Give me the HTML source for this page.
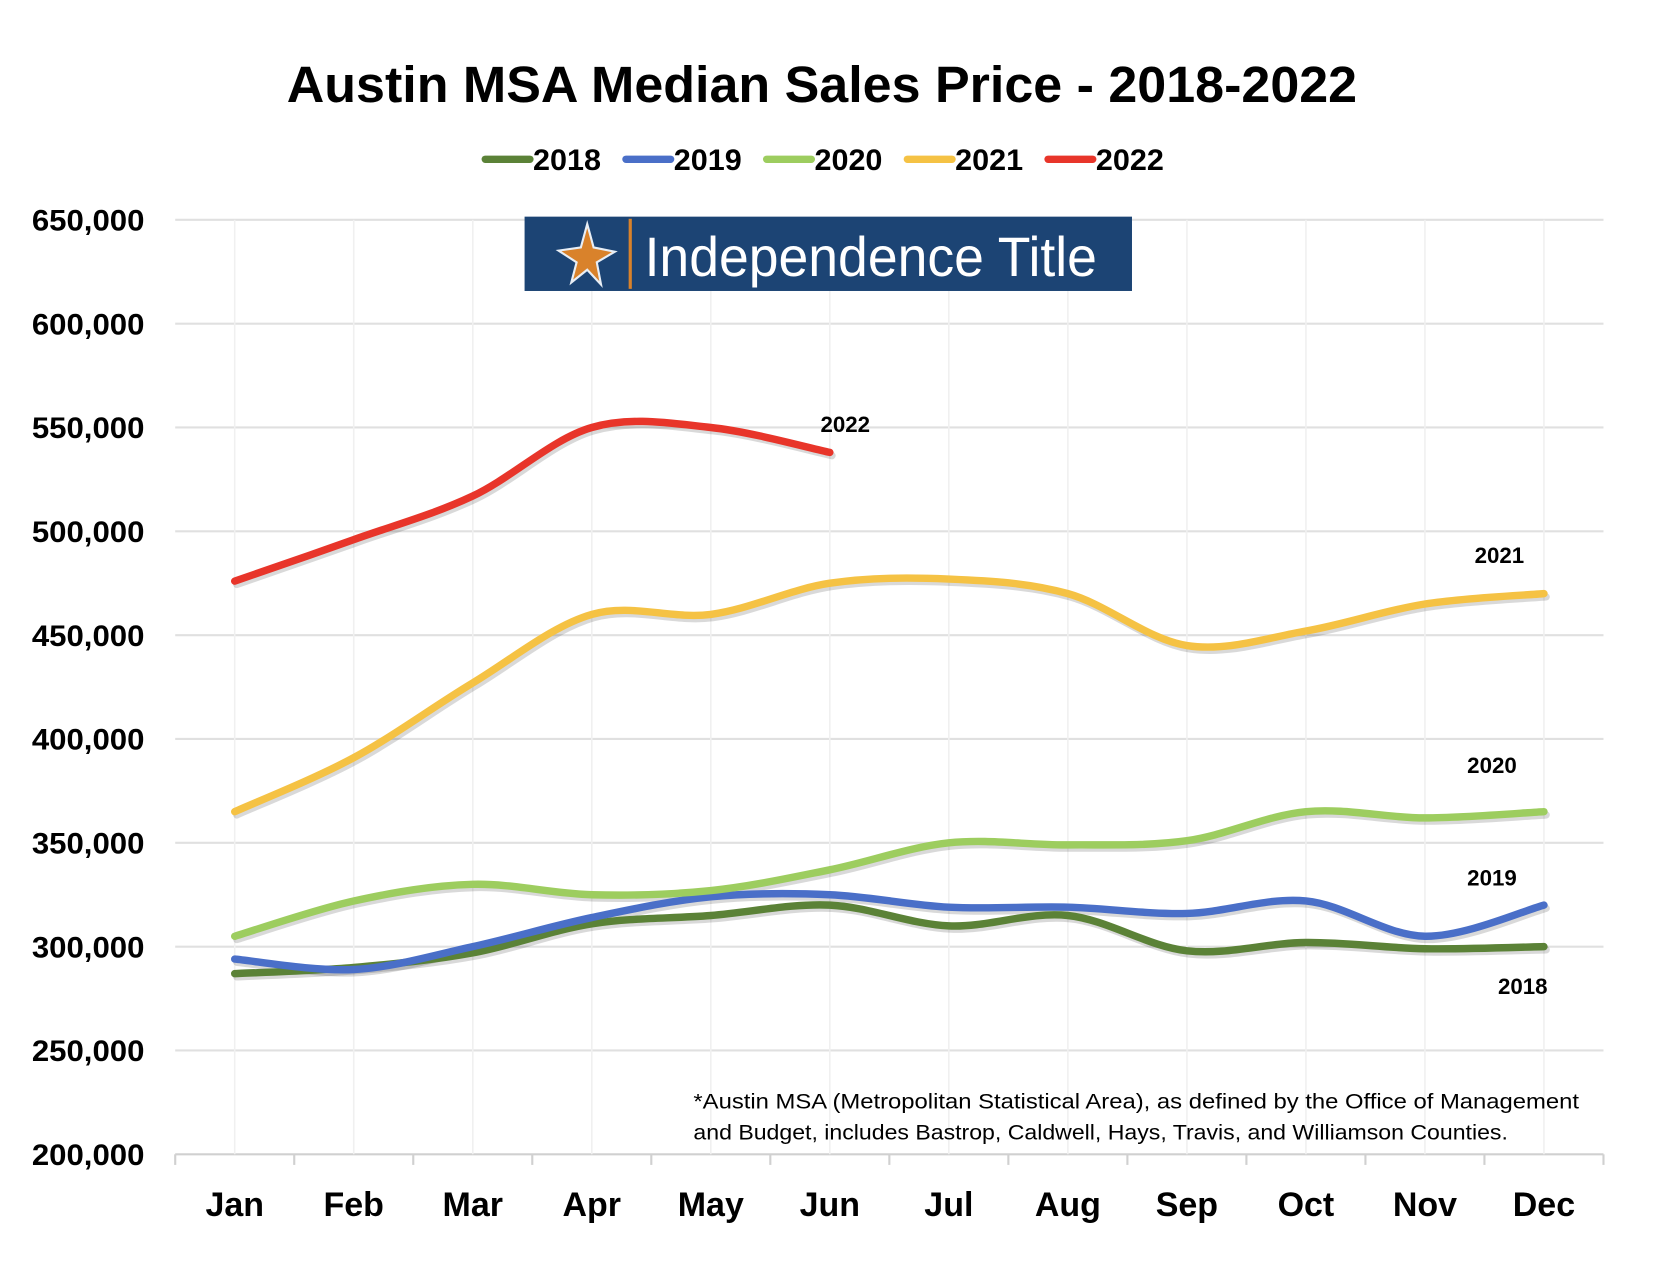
<!DOCTYPE html>
<html><head><meta charset="utf-8"><style>
html,body{margin:0;padding:0;background:#fff}
svg{display:block}
text{font-family:"Liberation Sans",sans-serif}
</style></head><body>
<svg id="chart" width="1664" height="1286" viewBox="0 0 1567 1211" xmlns="http://www.w3.org/2000/svg">
<rect width="1567" height="1211" fill="#fff"/>
<text x="774" y="96" text-anchor="middle" font-size="48" font-weight="bold" textLength="1008" lengthAdjust="spacingAndGlyphs">Austin MSA Median Sales Price - 2018-2022</text>
<g id="grid"></g>
<g id="yaxis"></g>
<g id="xaxis"></g>
<g>
<rect x="494" y="204" width="572" height="70" fill="#1c4474"/>
<polygon points="553,211 559,233 579,237 562,247 566,268 553,254 538,266 543,247 526,236 547,233" fill="#d9822b" stroke="#e8eef5" stroke-width="2"/>
<rect x="592" y="206" width="3" height="66" fill="#d9822b"/>
<text x="607" y="260" font-size="52" fill="#fff" textLength="426" lengthAdjust="spacingAndGlyphs">Independence Title</text>
</g>
<g id="series"></g>
<g id="legend"></g>
<text x="653" y="1044" font-size="20" textLength="834" lengthAdjust="spacingAndGlyphs">*Austin MSA (Metropolitan Statistical Area), as defined by the Office of Management</text>
<text x="653" y="1073" font-size="20" textLength="767" lengthAdjust="spacingAndGlyphs">and Budget, includes Bastrop, Caldwell, Hays, Travis, and Williamson Counties.</text>
</svg>
<script>
const months = ["Jan","Feb","Mar","Apr","May","Jun","Jul","Aug","Sep","Oct","Nov","Dec"];
const yTicks = [200000,250000,300000,350000,400000,450000,500000,550000,600000,650000];
const years = ["2018","2019","2020","2021","2022"];
const s2018 = [287000,290000,297000,311000,315000,320000,310000,315000,298000,302000,299000,300000];
const s2019 = [294000,289000,300000,314000,324000,325000,319000,319000,316000,322000,305000,320000];
const s2020 = [305000,322000,330000,325000,327000,337000,350000,349000,351000,365000,362000,365000];
const s2021 = [365000,391000,427000,460000,460000,475000,477000,470000,445000,452000,465000,470000];
const s2022 = [476000,496000,517000,550000,550000,538000];

const NS="http://www.w3.org/2000/svg";
const L=165,R=1510,T=207,B=1087,YMIN=200000,YMAX=650000;
const step=(R-L)/months.length;
function xs(i){return L+step*(i+0.5);}
function ys(v){return B-(v-YMIN)/(YMAX-YMIN)*(B-T);}
function mk(tag,attrs,parent){const e=document.createElementNS(NS,tag);for(const k in attrs)e.setAttribute(k,attrs[k]);parent.appendChild(e);return e;}
const grid=document.getElementById('grid'),yax=document.getElementById('yaxis'),xax=document.getElementById('xaxis');
yTicks.forEach(v=>{
  const y=ys(v);
  const gl=mk('line',{x1:L,x2:R,y1:y,y2:y,stroke:v===YMIN?'#d0d0d0':'#e0e0e0','stroke-width':2},grid);
  
  
  const t=mk('text',{x:136,y:y+10,'text-anchor':'end','font-size':28,'font-weight':'bold',textLength:106,lengthAdjust:'spacingAndGlyphs'},yax);
  
  
  t.textContent=v.toLocaleString('en-US');
});
months.forEach((m,i)=>{
  const vl=mk('line',{x1:xs(i),x2:xs(i),y1:T,y2:B,stroke:'#f0f0f0','stroke-width':1.5},grid);
  
  
  const t=mk('text',{x:xs(i),y:1145,'text-anchor':'middle','font-size':32,'font-weight':'bold'},xax);
  
  
  t.textContent=m;
});
for(let i=0;i<=months.length;i++){
  const x=L+step*i;
  const tk=mk('line',{x1:x,x2:x,y1:B,y2:B+10,stroke:'#d0d0d0','stroke-width':2},xax);
  
  
}
function smooth(vals){
  const p=vals.map((v,i)=>[xs(i),ys(v)]);
  let d=`M${p[0][0]},${p[0][1]}`;
  for(let i=0;i<p.length-1;i++){
    const p0=p[i-1]||p[i],p1=p[i],p2=p[i+1],p3=p[i+2]||p[i+1];
    const c1=[p1[0]+(p2[0]-p0[0])/6,p1[1]+(p2[1]-p0[1])/6];
    const c2=[p2[0]-(p3[0]-p1[0])/6,p2[1]-(p3[1]-p1[1])/6];
    d+=` C${c1[0]},${c1[1]} ${c2[0]},${c2[1]} ${p2[0]},${p2[1]}`;
  }
  return d;
}
const colors=["#5b8237","#4a6fc8","#9dcd5f","#f5c244","#e8352a"];
const data=[s2018,s2019,s2020,s2021,s2022];
const sg=document.getElementById('series');
data.forEach((vals,k)=>{
  const sh=mk('path',{d:smooth(vals),fill:'none',stroke:'rgba(0,0,0,0.15)','stroke-width':7,'stroke-linecap':'round',transform:'translate(2,3)'},sg);
  
  
});
data.forEach((vals,k)=>{
  const p=mk('path',{d:smooth(vals),fill:'none',stroke:colors[k],'stroke-width':7,'stroke-linecap':'round'},sg);
  
  
});
const labelPos=[[1434,936],[1405,834],[1405,728],[1412,530],[796,407]];
labelPos.forEach((pp,k)=>{
  const t=mk('text',{x:pp[0],y:pp[1],'text-anchor':'middle','font-size':21,'font-weight':'bold'},sg);
  
  
  t.textContent=years[k];
});
const lg=document.getElementById('legend');
years.forEach((y,k)=>{
  const x0=457+k*132.5;
  const ln=mk('line',{x1:x0,x2:x0+42,y1:150,y2:150,stroke:colors[k],'stroke-width':7,'stroke-linecap':'round'},lg);
  
  
  const t=mk('text',{x:x0+45,y:160,'font-size':28,'font-weight':'bold',textLength:64,lengthAdjust:'spacingAndGlyphs'},lg);
  
  
  t.textContent=y;
});
</script>
</body></html>
